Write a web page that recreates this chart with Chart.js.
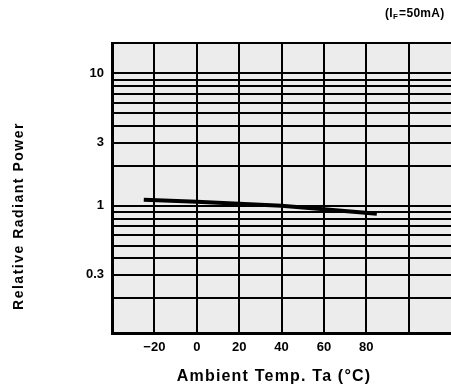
<!DOCTYPE html>
<html>
<head>
<meta charset="utf-8">
<script src="https://cdn.jsdelivr.net/npm/chart.js@4/dist/chart.umd.min.js"></script>
<style>
  html, body { margin: 0; padding: 0; background: #fff; }
  #wrap { width: 451px; height: 392px; position: relative; }
</style>
</head>
<body>
<div id="wrap"><canvas id="c" width="451" height="392"></canvas></div>
<script>
// ---- data ----
const temps = [-25, 0, 20, 40, 60, 85];
const power = [1.11, 1.07, 1.035, 1.0, 0.94, 0.87];

const xGridValues = [-40, -20, 0, 20, 40, 60, 80, 100];
const xTickValues = [-20, 0, 20, 40, 60, 80];
const xTickLabels = ['\u221220', '0', '20', '40', '60', '80'];
const yGridValues = [0.2, 0.3, 0.4, 0.5, 0.6, 0.7, 0.8, 0.9, 1, 2, 3, 4, 5, 6, 7, 8, 9, 10, 17];
const yTickValues = [10, 3, 1, 0.3];
const yTickLabels = ['10', '3', '1', '0.3'];

const xTitle = 'Ambient Temp. Ta (°C)';
const yTitle = 'Relative Radiant Power';
const noteParts = ['(I', 'F', '=50mA)'];

const FONT = '"Liberation Sans", Arial, sans-serif';

const decor = {
  id: 'decor',
  beforeDraw(chart) {
    const { ctx, chartArea: a } = chart;
    ctx.save();
    ctx.fillStyle = '#ececec';
    ctx.fillRect(a.left, a.top, a.right - a.left, a.bottom - a.top);
    ctx.restore();
  },
  afterDraw(chart) {
    const { ctx } = chart;
    ctx.save();
    ctx.fillStyle = '#000';
    // x title
    ctx.font = 'bold 16px ' + FONT;
    ctx.letterSpacing = '1.2px';
    ctx.textAlign = 'center';
    ctx.textBaseline = 'middle';
    ctx.fillText(xTitle, 274, 377);
    // y title
    ctx.save();
    ctx.translate(19, 216);
    ctx.rotate(-Math.PI / 2);
    ctx.font = 'bold 14px ' + FONT;
    ctx.letterSpacing = '1.5px';
    ctx.fillText(yTitle, 0, 0);
    ctx.restore();
    // note (IF=50mA)
    ctx.letterSpacing = '0.3px';
    ctx.textAlign = 'left';
    ctx.textBaseline = 'alphabetic';
    let x = 385;
    const base = 17;
    ctx.font = 'bold 12px ' + FONT;
    ctx.fillText(noteParts[0], x, base);
    x += ctx.measureText(noteParts[0]).width;
    ctx.font = 'bold 8px ' + FONT;
    ctx.fillText(noteParts[1], x, base + 2);
    x += ctx.measureText(noteParts[1]).width + 1;
    ctx.font = 'bold 12px ' + FONT;
    ctx.fillText(noteParts[2], x, base);
    ctx.restore();
  }
};

new Chart(document.getElementById('c'), {
  type: 'line',
  data: {
    datasets: [{
      data: temps.map((t, i) => ({ x: t, y: power[i] })),
      borderColor: '#000',
      borderWidth: 4,
      pointRadius: 0,
      tension: 0,
      fill: false
    }]
  },
  options: {
    responsive: false,
    animation: false,
    devicePixelRatio: 1,
    layout: { padding: { left: 0, right: 0, top: 43, bottom: 0 } },
    plugins: { legend: { display: false }, tooltip: { enabled: false }, title: { display: false } },
    scales: {
      x: {
        type: 'linear',
        min: -40,
        max: 120,
        afterBuildTicks(scale) { scale.ticks = xGridValues.map(v => ({ value: v })); },
        afterFit(scale) { scale.height = 59; },
        grid: { color: '#000', lineWidth: 2, drawTicks: false },
        border: { color: '#000', width: 3 },
        ticks: {
          padding: 7,
          color: '#000',
          font: { family: FONT, size: 13, weight: 'bold' },
          callback(v) { const i = xTickValues.indexOf(v); return i >= 0 ? xTickLabels[i] : ''; },
          maxRotation: 0,
          autoSkip: false
        }
      },
      y: {
        type: 'logarithmic',
        min: 0.109,
        max: 17,
        afterBuildTicks(scale) { scale.ticks = yGridValues.map(v => ({ value: v })); },
        afterFit(scale) { scale.width = 112; },
        grid: { color: '#000', lineWidth: 2, drawTicks: false },
        border: { color: '#000', width: 3 },
        ticks: {
          padding: 8,
          color: '#000',
          font: { family: FONT, size: 13, weight: 'bold' },
          callback(v) { const i = yTickValues.indexOf(v); return i >= 0 ? yTickLabels[i] : ''; },
          autoSkip: false
        }
      }
    }
  },
  plugins: [decor]
});
</script>
</body>
</html>
